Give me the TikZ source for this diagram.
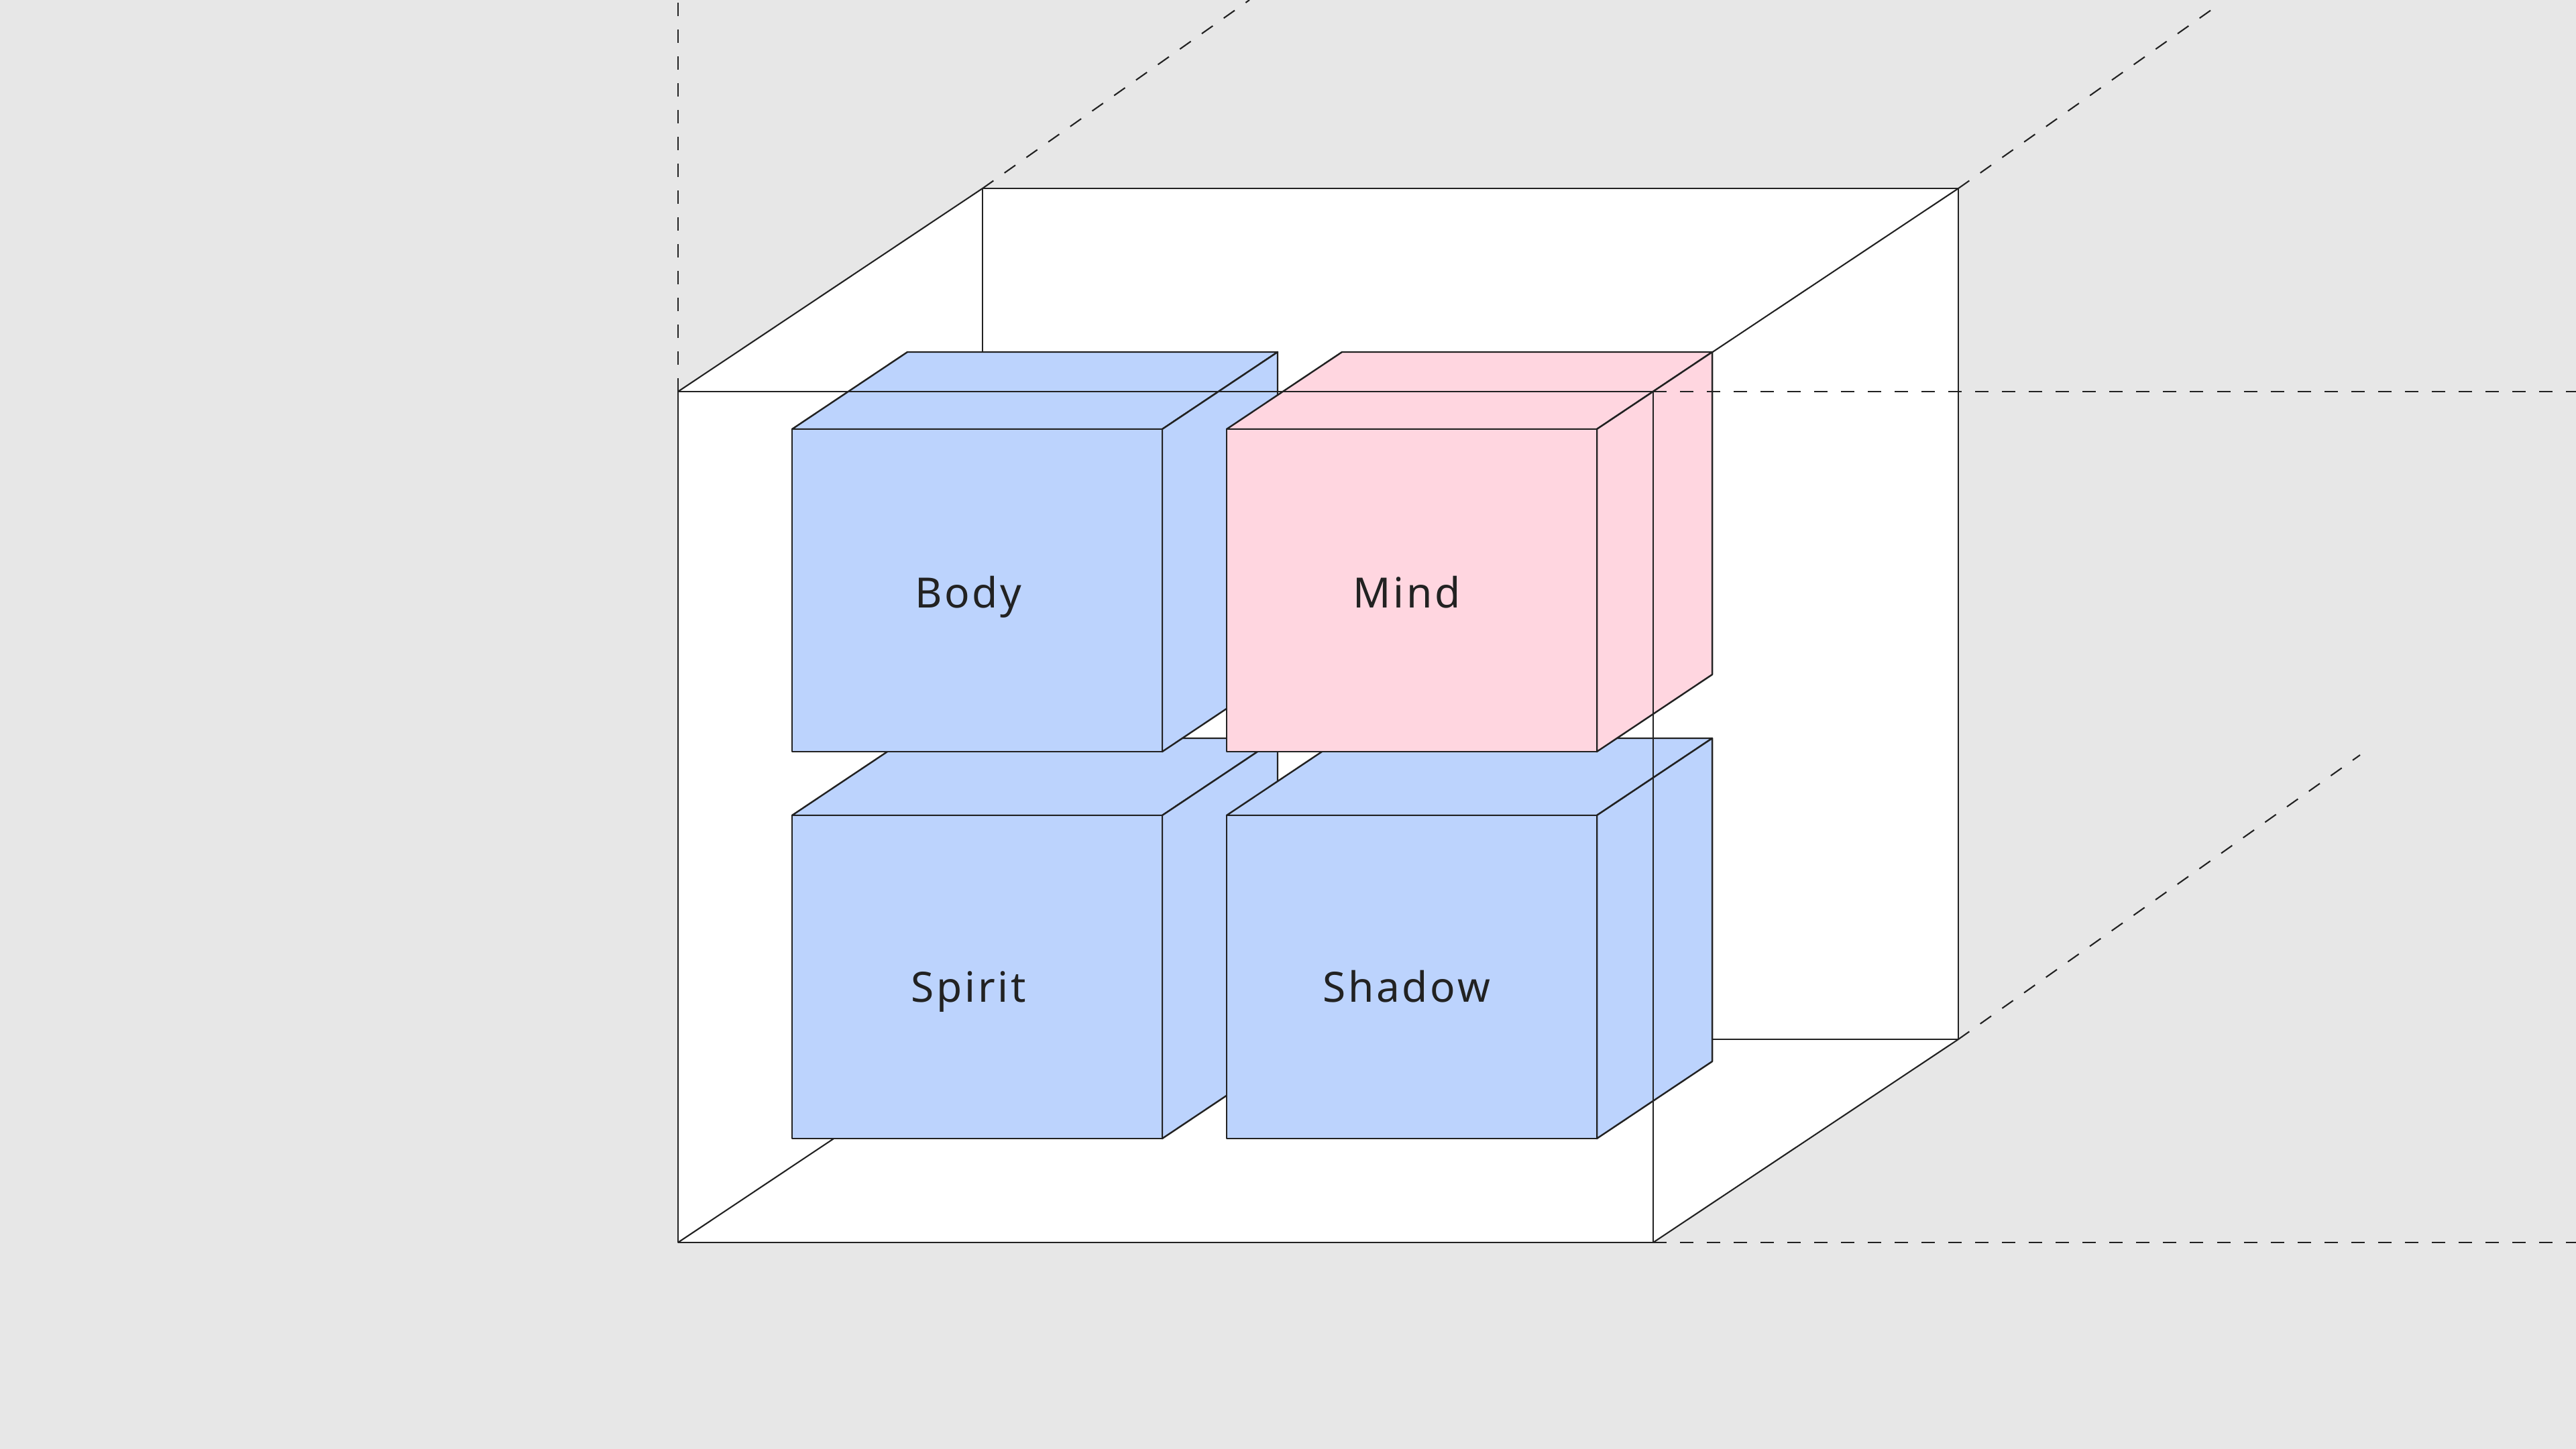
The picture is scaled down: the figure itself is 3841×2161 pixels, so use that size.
\documentclass[tikz,border=0pt]{standalone}
\usepackage{fontspec}
\setmainfont{Noto Sans}
\newfontfamily\labelfont[LetterSpace=6]{Noto Sans}
\definecolor{bggray}{HTML}{E7E7E7}
\definecolor{ink}{HTML}{222222}
\definecolor{softblue}{HTML}{BCD3FD}
\definecolor{softpink}{HTML}{FFD6E0}

\begin{document}
\begin{tikzpicture}[
  x=0.01cm, y=-0.01cm,
  frame/.style={draw=ink, line width=0.6pt, line join=round},
  cube/.style={draw=ink, line width=0.7pt, line join=round},
  guide/.style={draw=ink, line width=0.6pt, dash pattern=on 0.2cm off 0.2cm},
  label/.style={anchor=base, inner sep=0pt, text=ink, font=\labelfont\fontsize{17.7pt}{20pt}\selectfont}
]
  % Canvas
  \fill[bggray] (0,0) rectangle (3841,2161);
  \useasboundingbox (0,0) rectangle (3841,2161);

  % Outer box corners
  \coordinate (ftl) at (1011,584);
  \coordinate (ftr) at (2465,584);
  \coordinate (fbl) at (1011,1853);
  \coordinate (fbr) at (2465,1853);
  \coordinate (btl) at (1465,281);
  \coordinate (btr) at (2920,281);
  \coordinate (bbl) at (1465,1550);
  \coordinate (bbr) at (2920,1550);

  % Outer box, back part
  \fill[white] (ftl) -- (btl) -- (btr) -- (bbr) -- (fbr) -- (fbl) -- cycle;
  \draw[frame] (btl) rectangle (bbr);
  \draw[frame] (ftl) -- (btl);
  \draw[frame] (ftr) -- (btr);
  \draw[frame] (fbl) -- (bbl);
  \draw[frame] (fbr) -- (bbr);

  % Spirit
  \draw[cube, fill=softblue] (1181,1216) -- ++(172,-115) -- ++(552,0) -- ++(-172,115) -- cycle;
  \draw[cube, fill=softblue] (1733,1216) -- ++(172,-115) -- ++(0,482) -- ++(-172,115) -- cycle;
  \draw[cube, fill=softblue] (1181,1216) rectangle ++(552,482);
  \node[label] (spirit) at (1444,1494) {Spirit};

  % Shadow
  \draw[cube, fill=softblue] (1829,1216) -- ++(172,-115) -- ++(552,0) -- ++(-172,115) -- cycle;
  \draw[cube, fill=softblue] (2381,1216) -- ++(172,-115) -- ++(0,482) -- ++(-172,115) -- cycle;
  \draw[cube, fill=softblue] (1829,1216) rectangle ++(552,482);
  \node[label] (shadow) at (2097,1494) {Shadow};

  % Body
  \draw[cube, fill=softblue] (1181,640) -- ++(172,-115) -- ++(552,0) -- ++(-172,115) -- cycle;
  \draw[cube, fill=softblue] (1733,640) -- ++(172,-115) -- ++(0,481) -- ++(-172,115) -- cycle;
  \draw[cube, fill=softblue] (1181,640) rectangle ++(552,481);
  \node[label] (body) at (1444,906) {Body};

  % Mind
  \draw[cube, fill=softpink] (1829,640) -- ++(172,-115) -- ++(552,0) -- ++(-172,115) -- cycle;
  \draw[cube, fill=softpink] (2381,640) -- ++(172,-115) -- ++(0,481) -- ++(-172,115) -- cycle;
  \draw[cube, fill=softpink] (1829,640) rectangle ++(552,481);
  \node[label] (mind) at (2098,906) {Mind};

  % Outer box, front face
  \draw[frame] (ftl) rectangle (fbr);

  % Guide lines
  \coordinate (up) at (1011,0);
  \coordinate (upl) at (1863,0);
  \coordinate (upr) at (3311,5);
  \coordinate (midr) at (3841,584);
  \coordinate (lowr) at (3519,1126);
  \coordinate (botr) at (3841,1853);
  \draw[guide] (ftl) -- (up);
  \draw[guide] (btl) -- (upl);
  \draw[guide] (btr) -- (upr);
  \draw[guide] (ftr) -- (midr);
  \draw[guide] (bbr) -- (lowr);
  \draw[guide] (fbr) -- (botr);
\end{tikzpicture}
\end{document}
